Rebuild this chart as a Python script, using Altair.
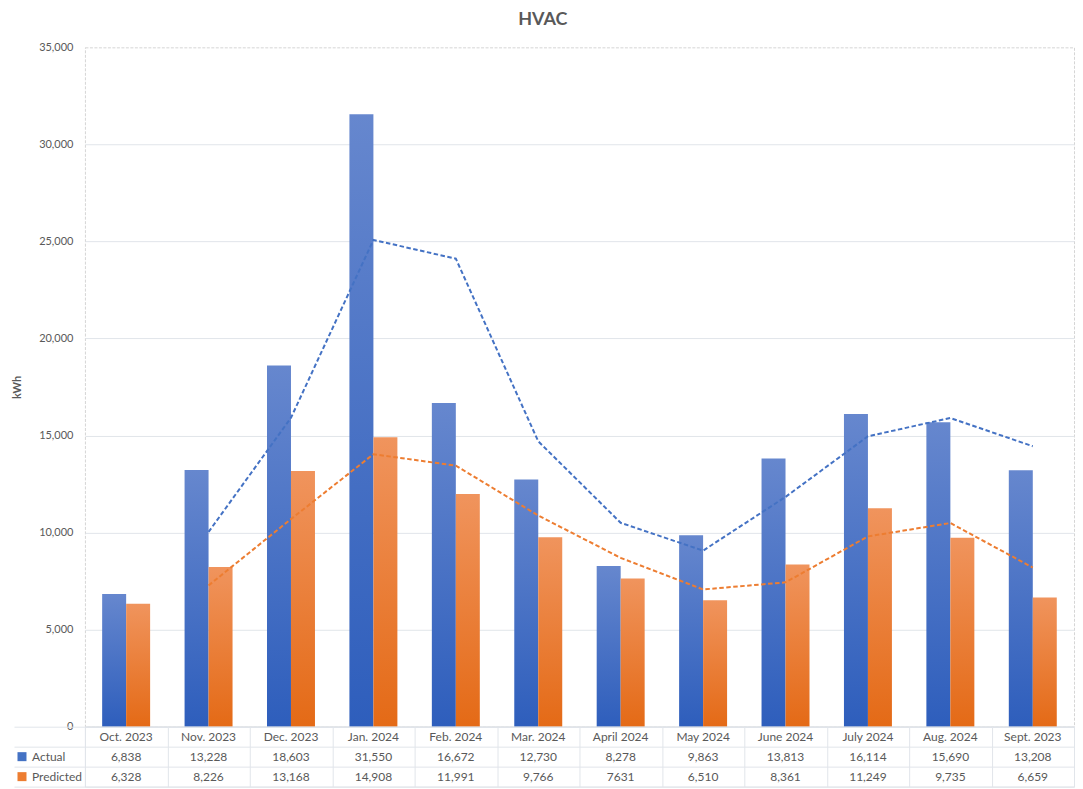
import altair as alt
import pandas as pd

months = ["Oct. 2023", "Nov. 2023", "Dec. 2023", "Jan. 2024", "Feb. 2024", "Mar. 2024",
          "April 2024", "May 2024", "June 2024", "July  2024", "Aug. 2024", "Sept. 2023"]
actual = [6838, 13228, 18603, 31550, 16672, 12730, 8278, 9863, 13813, 16114, 15690, 13208]
predicted = [6328, 8226, 13168, 14908, 11991, 9766, 7631, 6510, 8361, 11249, 9735, 6659]
actual_labels = ["6,838", "13,228", "18,603", "31,550", "16,672", "12,730",
                 "8,278", "9,863", "13,813", "16,114", "15,690", "13,208"]
predicted_labels = ["6,328", "8,226", "13,168", "14,908", "11,991", "9,766",
                    "7631", "6,510", "8,361", "11,249", "9,735", "6,659"]
series = ["Actual", "Predicted"]
rows = ["hdr", "Actual", "Predicted"]

FONT = "Lato"
TXT = "#595959"
GRID = "#E1E5EA"
BLUE = "#4472C4"
ORANGE = "#ED7D31"

recs = []
for i, m in enumerate(months):
    recs.append({"month": m, "series": "Actual", "value": actual[i], "idx": i})
    recs.append({"month": m, "series": "Predicted", "value": predicted[i], "idx": i})
df = pd.DataFrame(recs)

trecs = []
for i, m in enumerate(months):
    trecs.append({"month": m, "row": "hdr", "text": m})
    trecs.append({"month": m, "row": "Actual", "text": actual_labels[i]})
    trecs.append({"month": m, "row": "Predicted", "text": predicted_labels[i]})
tdf = pd.DataFrame(trecs)

grad_blue = alt.Gradient(gradient="linear", x1=0, x2=0, y1=0, y2=1,
                         stops=[alt.GradientStop(color="#6687CE", offset=0),
                                alt.GradientStop(color="#2E5EBC", offset=1)])
grad_orange = alt.Gradient(gradient="linear", x1=0, x2=0, y1=0, y2=1,
                           stops=[alt.GradientStop(color="#F0945D", offset=0),
                                  alt.GradientStop(color="#E46A16", offset=1)])

W = 990

xs_top = alt.X("month:N", sort=months,
               scale=alt.Scale(domain=months, paddingInner=0.418, paddingOuter=0.209),
               axis=alt.Axis(labels=False, ticks=False, grid=False, title=None,
                             domainColor="#D9DCE1", domainWidth=1.5,
                             minExtent=0, maxExtent=0))
xoff = alt.XOffset("series:N", scale=alt.Scale(domain=series, paddingInner=0, paddingOuter=0))
ys_top = alt.Y("value:Q", scale=alt.Scale(domain=[0, 35000]),
               axis=alt.Axis(values=list(range(0, 35001, 5000)), format=",d", title="kWh",
                             titleFont=FONT, titleFontSize=11, titleFontWeight="bold",
                             titleColor=TXT, titlePadding=16, labelFont=FONT,
                             labelFontSize=11, labelColor=TXT, labelPadding=12,
                             ticks=False, domain=False,
                             gridColor={"condition": {"test": "datum.value >= 35000",
                                                      "value": "transparent"},
                                        "value": GRID}))

base = alt.Chart(df)
bars_a = base.transform_filter("datum.series == 'Actual'").mark_bar(fill=grad_blue).encode(
    x=xs_top, xOffset=xoff, y=ys_top)
bars_p = base.transform_filter("datum.series == 'Predicted'").mark_bar(fill=grad_orange).encode(
    x=xs_top, xOffset=xoff, y=ys_top)
lines = base.transform_window(
    ma="mean(value)", cnt="count()", frame=[-1, 0], groupby=["series"],
    sort=[alt.SortField("idx")]
).transform_filter("datum.cnt == 2").mark_line(strokeDash=[4.5, 2.5], strokeWidth=2).encode(
    x=xs_top, y=alt.Y("ma:Q"),
    color=alt.Color("series:N", scale=alt.Scale(domain=series, range=[BLUE, ORANGE]), legend=None))

top = alt.layer(bars_a, bars_p, lines).properties(
    width=W, height=680,
    view=alt.ViewBackground(stroke="#D5D5D5", strokeDash=[3, 1.5]))

xs_tab = alt.X("month:N", sort=months,
               scale=alt.Scale(domain=months, paddingInner=0, paddingOuter=0),
               axis=alt.Axis(labels=False, ticks=False, domain=False, grid=True,
                             tickBand="extent", gridColor=GRID, title=None,
                             minExtent=0, maxExtent=0))
ys_tab = alt.Y("row:N", sort=rows,
               scale=alt.Scale(domain=rows, paddingInner=0, paddingOuter=0),
               axis=alt.Axis(labels=False, ticks=True, tickSize=71, tickBand="extent",
                             tickColor=GRID, grid=True, gridColor=GRID, domain=False,
                             title=None))

tab_text = alt.Chart(tdf).mark_text(font=FONT, fontSize=12, color=TXT).encode(
    x=xs_tab, y=ys_tab, text="text:N")
tab_leg = alt.Chart(tdf).transform_filter("datum.row != 'hdr'").mark_square(
    opacity=0, size=10).encode(
    x=xs_tab, y=ys_tab,
    color=alt.Color("row:N", scale=alt.Scale(domain=series, range=[BLUE, ORANGE]),
                    legend=alt.Legend(orient="none", legendX=-69, legendY=24, title=None,
                                      symbolType="square", symbolSize=81, symbolOpacity=1,
                                      symbolStrokeWidth=0, labelFont=FONT, labelFontSize=12,
                                      labelColor=TXT, rowPadding=8, padding=0)))

table = alt.layer(tab_text, tab_leg).properties(
    width=W, height=60,
    view=alt.ViewBackground(stroke=GRID))

chart = alt.vconcat(top, table, spacing=0, bounds="flush").resolve_scale(
    color="independent").resolve_legend(color="independent").properties(
    title=alt.TitleParams("HVAC", font=FONT, fontSize=18, fontWeight="bold", color=TXT,
                          anchor="middle", offset=12),
    padding={"left": 3, "top": 2, "right": 0, "bottom": 0}
).configure_view(strokeWidth=1)

chart.save("out.html", embed_options={"renderer": "svg", "actions": False})
